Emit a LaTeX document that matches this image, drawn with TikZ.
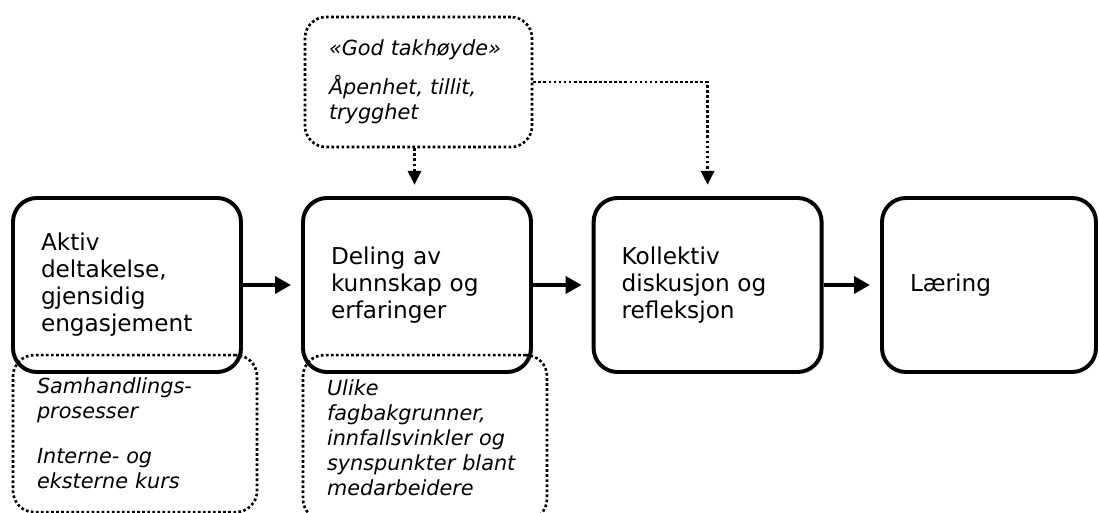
\documentclass[tikz,border=0pt]{standalone}
\usepackage{fontspec}
\setmainfont{DejaVu Sans}
\usetikzlibrary{arrows.meta,positioning}
\tikzset{box/.style={draw,line width=2.8pt,rounded corners=17pt,minimum height=4.35cm,align=left,font=\fontsize{16.5}{19.2}\selectfont,inner xsep=0.7cm},notebox/.style={draw,line width=1.9pt,dash pattern=on 1.9pt off 1.7pt,rounded corners=15pt,align=left,font=\fontsize{14.8}{17.8}\selectfont\itshape,inner xsep=0.6cm},arr/.style={-{Triangle[length=4mm,width=4.2mm]},line width=2.8pt,shorten >=0.25cm},dotarr/.style={-{Triangle[length=3.5mm,width=3.3mm]},line width=1.9pt,dash pattern=on 1.9pt off 1.7pt,shorten >=0.28cm}}

\begin{document}
\begin{tikzpicture}
\useasboundingbox (0,0) rectangle (27.475,-12.825);
\node[notebox,text width=44.75mm,minimum height=3.25cm] (tak) at (10.4625,-2.05) {«God takhøyde»\\[0.35cm]Åpenhet, tillit,\\trygghet};
\node[notebox,text width=49mm,minimum height=3.925cm] (samh) at (3.375,-10.84) {Samhandlings-\\prosesser\\[0.5cm]Interne- og\\eksterne kurs};
\node[notebox,text width=49mm,minimum height=4.125cm] (fag) at (10.625,-10.94) {Ulike\\fagbakgrunner,\\innfallsvinkler og\\synspunkter blant\\medarbeidere};
\node[box,text width=43mm] (aktiv) at (3.175,-7.125) {Aktiv\\deltakelse,\\gjensidig\\engasjement};
\node[box,text width=43mm] (deling) at (10.425,-7.125) {Deling av\\kunnskap og\\erfaringer};
\node[box,text width=43mm] (kollektiv) at (17.69,-7.125) {Kollektiv\\diskusjon og\\refleksjon};
\node[box,text width=39.5mm] (laering) at (24.725,-7.125) {Læring};
\draw[arr] (aktiv.east) -- (deling.west);
\draw[arr] (deling.east) -- (kollektiv.west);
\draw[arr] (kollektiv.east) -- (laering.west);
\draw[dotarr] ([xshift=-1mm]tak.south) -- ([xshift=-1mm]tak.south |- deling.north);
\draw[dotarr] (tak.east) -| (kollektiv.north);
\end{tikzpicture}
\end{document}
